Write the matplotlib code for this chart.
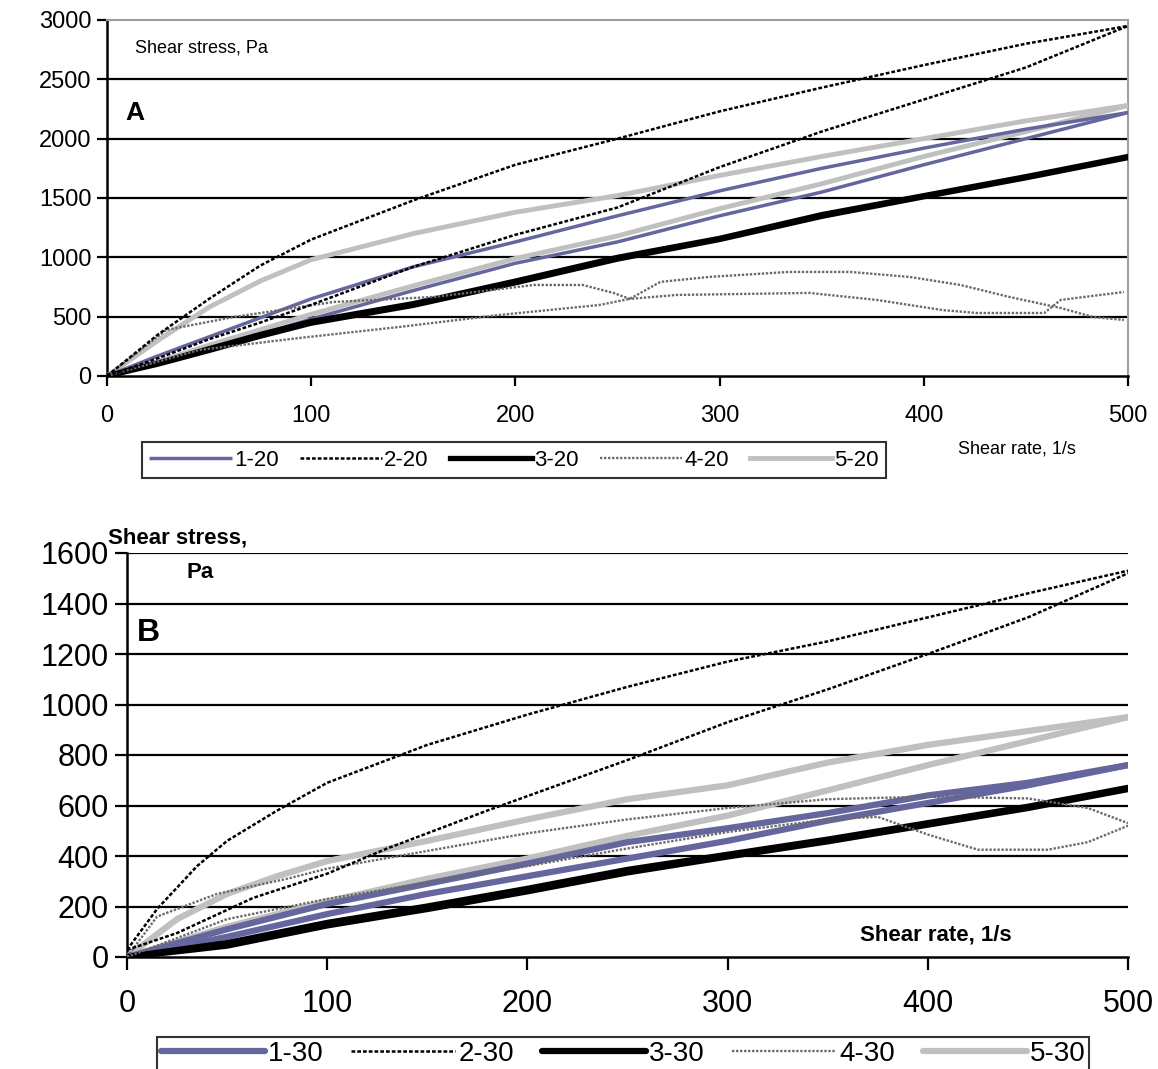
import matplotlib.pyplot as plt
from matplotlib.lines import Line2D

plt.rcParams['font.family'] = ['Liberation Sans', 'DejaVu Sans']

# ---- panel A data (shear rate 1/s, shear stress Pa), up and down branches
a_x = [0, 25, 50, 75, 100, 150, 200, 250, 300, 350, 400, 450, 500]
a1_up = [0, 170, 330, 490, 650, 920, 1130, 1350, 1560, 1750, 1920, 2080, 2220]
a1_dn = [0, 110, 230, 350, 480, 720, 950, 1130, 1350, 1550, 1780, 2000, 2220]
a2_up = [0, 350, 650, 930, 1150, 1480, 1780, 2000, 2230, 2430, 2620, 2800, 2950]
a2_dn = [0, 150, 310, 450, 600, 920, 1190, 1420, 1760, 2060, 2330, 2600, 2950]
a3_up = [0, 110, 230, 350, 460, 610, 800, 1000, 1160, 1360, 1520, 1680, 1850]
a3_dn = [0, 100, 215, 335, 445, 595, 785, 985, 1150, 1345, 1510, 1670, 1840]
a5_up = [0, 300, 580, 800, 980, 1200, 1380, 1520, 1690, 1850, 2000, 2150, 2280]
a5_dn = [0, 120, 260, 390, 520, 760, 990, 1180, 1410, 1620, 1850, 2060, 2280]

a4_up_x = [0, 29, 62, 111, 160, 209, 233, 248, 256, 279, 344, 377, 409, 426, 459, 467, 498]
a4_up = [0, 388, 497, 624, 666, 767, 767, 700, 650, 683, 700, 641, 556, 531, 531, 641, 708]
a4_dn_x = [0, 45, 94, 143, 192, 241, 256, 271, 295, 334, 364, 393, 418, 442, 467, 483, 498]
a4_dn = [0, 219, 320, 413, 514, 598, 650, 793, 835, 877, 877, 835, 767, 666, 573, 497, 472]

# ---- panel B data
b_x = [0, 50, 100, 150, 200, 250, 300, 350, 400, 450, 500]
b1_up = [0, 110, 210, 290, 370, 455, 510, 570, 640, 690, 760]
b1_dn = [0, 80, 170, 250, 320, 390, 460, 540, 610, 680, 760]
b3_up = [0, 55, 135, 200, 270, 345, 405, 465, 530, 595, 670]
b3_dn = [0, 45, 125, 190, 260, 335, 398, 458, 524, 590, 665]

b2_up_x = [0, 15, 35, 50, 75, 100, 130, 150, 200, 250, 300, 350, 400, 450, 500]
b2_up = [28, 190, 360, 460, 580, 690, 780, 840, 960, 1070, 1170, 1250, 1345, 1440, 1530]
b2_dn_x = [0, 25, 63, 100, 130, 180, 250, 300, 350, 400, 450, 500]
b2_dn = [28, 95, 234, 330, 430, 580, 780, 930, 1060, 1200, 1345, 1520]

b5_up_x = [0, 25, 50, 75, 100, 150, 200, 250, 300, 350, 400, 450, 500]
b5_up = [0, 150, 250, 320, 380, 460, 545, 625, 680, 770, 840, 895, 950]
b5_dn_x = [0, 25, 50, 100, 150, 200, 250, 300, 350, 400, 450, 500]
b5_dn = [0, 60, 120, 220, 310, 390, 480, 560, 660, 760, 855, 950]

b4_up_x = [0, 15, 45, 80, 100, 150, 200, 250, 300, 350, 400, 450, 480, 500]
b4_up = [0, 160, 250, 310, 350, 420, 490, 545, 590, 625, 635, 628, 590, 530]
b4_dn_x = [0, 50, 100, 150, 200, 250, 300, 350, 375, 400, 425, 460, 480, 500]
b4_dn = [0, 150, 230, 295, 360, 430, 495, 545, 555, 485, 425, 425, 455, 520]

BLUE = '#66669e'
LGRAY = '#c0c0c0'
DGRAY = '#6a6a6a'

fig = plt.figure(figsize=(11.58, 10.69), dpi=100)

# ---------------- panel A ----------------
ax = fig.add_axes([107/1158, 1-376/1069, 1021/1158, 356/1069])
st1 = dict(color=BLUE, lw=2.5, solid_capstyle='butt')
st2 = dict(color='black', lw=1.8, ls=(0, (1.5, 0.8)))
st3 = dict(color='black', lw=3.8)
st4 = dict(color=DGRAY, lw=1.7, ls=(0, (1, 0.7)))
st5 = dict(color=LGRAY, lw=3.5)

ax.plot(a_x, a5_up, **st5, zorder=3)
ax.plot(a_x, a5_dn, **st5, zorder=3)
ax.plot(a_x, a1_up, **st1, zorder=4)
ax.plot(a_x, a1_dn, **st1, zorder=4)
ax.plot(a_x, a3_up, **st3, zorder=4)
ax.plot(a_x, a3_dn, **st3, zorder=4)
ax.plot(a4_up_x, a4_up, **st4, zorder=5)
ax.plot(a4_dn_x, a4_dn, **st4, zorder=5)
ax.plot(a_x, a2_up, **st2, zorder=5)
ax.plot(a_x, a2_dn, **st2, zorder=5)

ax.set_xlim(0, 500)
ax.set_ylim(0, 3000)
ax.set_xticks(range(0, 501, 100))
ax.set_yticks(range(0, 3001, 500))
for g in range(500, 3000, 500):
    ax.axhline(g, color='black', lw=1.6, zorder=1)
ax.tick_params(direction='out', length=7, width=1.6, labelsize=17, pad=4)
ax.tick_params(axis='x', pad=14)
for s in ['left', 'bottom']:
    ax.spines[s].set_linewidth(1.8)
for s in ['top', 'right']:
    ax.spines[s].set_color('#a0a0a0')
    ax.spines[s].set_linewidth(1.5)

ax.text(0.027, 0.92, 'Shear stress, Pa', transform=ax.transAxes, fontsize=13,
        va='center')
ax.text(0.018, 0.74, 'A', transform=ax.transAxes, fontsize=19, weight='bold',
        va='center')
fig.text(958/1158, 1-449/1069, 'Shear rate, 1/s', fontsize=13, va='center')

hA = [Line2D([], [], **st1), Line2D([], [], **st2), Line2D([], [], **st3),
      Line2D([], [], **st4), Line2D([], [], **st5)]
legA = fig.legend(hA, ['1-20', '2-20', '3-20', '4-20', '5-20'], loc='center',
                  bbox_to_anchor=(514/1158, 1-460/1069), ncol=5, fontsize=16,
                  frameon=True, fancybox=False, edgecolor='black',
                  handlelength=3.7, handletextpad=0.1, columnspacing=0.95,
                  borderpad=0.35)
legA.get_frame().set_linewidth(1.5)

# ---------------- panel B ----------------
bx = fig.add_axes([127/1158, 1-957/1069, 1001/1158, 404/1069])
bs1 = dict(color=BLUE, lw=4.5, solid_capstyle='round')
bs2 = dict(color='black', lw=1.8, ls=(0, (1.5, 0.8)))
bs3 = dict(color='black', lw=4.5, solid_capstyle='round')
bs4 = dict(color=DGRAY, lw=1.7, ls=(0, (1, 0.7)))
bs5 = dict(color=LGRAY, lw=4.5, solid_capstyle='round')

bx.plot(b5_up_x, b5_up, **bs5, zorder=3)
bx.plot(b5_dn_x, b5_dn, **bs5, zorder=3)
bx.plot(b_x, b1_up, **bs1, zorder=4)
bx.plot(b_x, b1_dn, **bs1, zorder=4)
bx.plot(b_x, b3_up, **bs3, zorder=4)
bx.plot(b_x, b3_dn, **bs3, zorder=4)
bx.plot(b4_up_x, b4_up, **bs4, zorder=5)
bx.plot(b4_dn_x, b4_dn, **bs4, zorder=5)
bx.plot(b2_up_x, b2_up, **bs2, zorder=5)
bx.plot(b2_dn_x, b2_dn, **bs2, zorder=5)

bx.set_xlim(0, 500)
bx.set_ylim(0, 1600)
bx.set_xticks(range(0, 501, 100))
bx.set_yticks(range(0, 1601, 200))
for g in range(200, 1601, 200):
    bx.axhline(g, color='black', lw=1.6, zorder=1)
bx.tick_params(direction='out', length=9, width=1.6, labelsize=22, pad=4)
bx.tick_params(axis='x', pad=14)
bx.spines['top'].set_visible(False)
bx.spines['right'].set_visible(False)
for s in ['left', 'bottom']:
    bx.spines[s].set_linewidth(1.8)

fig.text(108/1158, 1-538/1069, 'Shear stress,', fontsize=16, weight='bold',
         va='center')
fig.text(187/1158, 1-573/1069, 'Pa', fontsize=16, weight='bold', va='center')
fig.text(137/1158, 1-633/1069, 'B', fontsize=23, weight='bold', va='center')
fig.text(860/1158, 1-935/1069, 'Shear rate, 1/s', fontsize=16, weight='bold',
         va='center')

hB = [Line2D([], [], **bs1), Line2D([], [], **bs2), Line2D([], [], **bs3),
      Line2D([], [], **bs4), Line2D([], [], **bs5)]
legB = fig.legend(hB, ['1-30', '2-30', '3-30', '4-30', '5-30'],
                  loc='upper center', bbox_to_anchor=(623/1158, 1-1023/1069),
                  ncol=5, fontsize=20, frameon=True, fancybox=False,
                  edgecolor='black', handlelength=3.75, handletextpad=0.1,
                  columnspacing=1.0, borderpad=0.15)
legB.get_frame().set_linewidth(1.5)

fig.savefig('out.png', dpi=100)
